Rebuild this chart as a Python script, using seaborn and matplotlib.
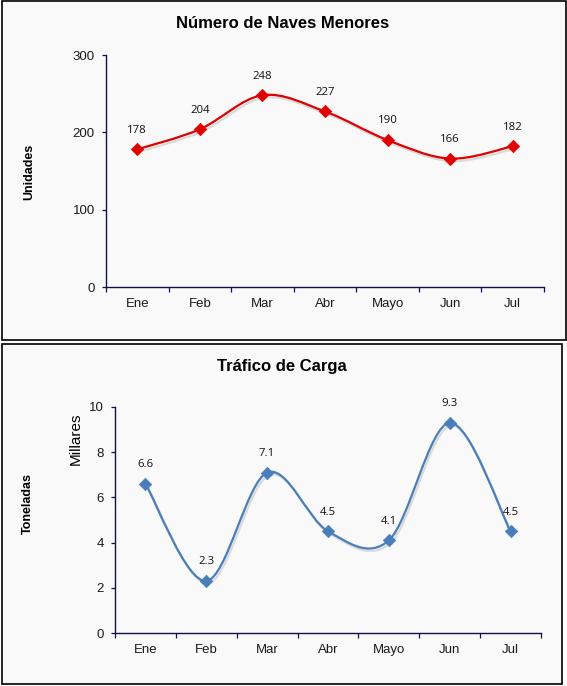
import matplotlib
matplotlib.use("Agg")
import matplotlib.pyplot as plt
import matplotlib.patheffects as pe
from matplotlib.path import Path
from matplotlib.patches import PathPatch, Rectangle
import numpy as np
import pandas as pd
import seaborn as sns

# ---------------- data ----------------
meses = ["Ene", "Feb", "Mar", "Abr", "Mayo", "Jun", "Jul"]
naves = [178, 204, 248, 227, 190, 166, 182]
carga = [6.6, 2.3, 7.1, 4.5, 4.1, 9.3, 4.5]
naves_ticks = [0, 100, 200, 300]
carga_ticks = [0, 2, 4, 6, 8, 10]

titulo_1 = "Número de Naves Menores"
titulo_2 = "Tráfico de Carga"

sns.set_theme(style="white")
plt.rcParams["font.family"] = ["Liberation Sans", "DejaVu Sans"]

W, H = 567, 686
fig = plt.figure(figsize=(W / 100, H / 100), dpi=100)
fig.patch.set_facecolor("white")

# panel frames
fig.patches.append(Rectangle((1.5 / W, 1 - 340 / H), 564.5 / W, 339 / H,
                             transform=fig.transFigure, facecolor="#F9F9F9",
                             edgecolor="black", lw=1.2, zorder=-5))
fig.patches.append(Rectangle((1.5 / W, 1 - 684 / H), 560 / W, 340 / H,
                             transform=fig.transFigure, facecolor="#F9F9F9",
                             edgecolor="black", lw=1.2, zorder=-5))

AX_COL = "#10104A"


def smooth_path(xs, ys):
    pts = np.column_stack([xs, ys]).astype(float)
    n = len(pts)
    verts = [pts[0]]
    codes = [Path.MOVETO]
    for i in range(n - 1):
        p0 = pts[i - 1] if i > 0 else pts[i]
        p1 = pts[i]
        p2 = pts[i + 1]
        p3 = pts[i + 2] if i + 2 < n else pts[i + 1]
        c1 = p1 + (p2 - p0) / 6.0
        c2 = p2 - (p3 - p1) / 6.0
        verts += [c1, c2, p2]
        codes += [Path.CURVE4] * 3
    return Path(verts, codes)


def draw_panel(ax, values, color, mcolor, yticks, fmt):
    df = pd.DataFrame({"x": np.arange(len(meses)), "y": values})
    path = smooth_path(df["x"], df["y"])
    patch = PathPatch(path, facecolor="none", edgecolor=color, lw=1.6,
                      zorder=3, capstyle="round", joinstyle="round")
    patch.set_path_effects([pe.SimpleLineShadow(offset=(1.2, -1.8), alpha=0.12,
                                                shadow_color="black"),
                            pe.Normal()])
    ax.add_patch(patch)
    sns.scatterplot(data=df, x="x", y="y", ax=ax, marker="D", s=40,
                    color=mcolor, edgecolor=mcolor, linewidth=0.5, zorder=4,
                    legend=False)
    for xi, yi in zip(df["x"], df["y"]):
        ax.annotate(fmt(yi), (xi, yi), xytext=(0, 13.8), textcoords="offset points",
                    ha="center", va="center", fontsize=8.2,
                    fontfamily="Open Sans", color="#111111", zorder=5)
    ax.set_facecolor("none")
    ax.set_xlim(-0.5, len(meses) - 0.5)
    ax.set_ylim(yticks[0], yticks[-1])
    ax.set_yticks(yticks)
    ax.set_yticklabels([str(t) for t in yticks], fontsize=9.5, color="#1a1a1a")
    ax.set_xticks(np.arange(-0.5, len(meses), 1.0))
    ax.set_xticklabels([])
    ax.set_xticks(np.arange(len(meses)), minor=True)
    ax.set_xticklabels(meses, minor=True, fontsize=9.5, color="#1a1a1a")
    ax.tick_params(axis="x", which="major", direction="out", length=3.5,
                   width=0.9, color=AX_COL, bottom=True)
    ax.tick_params(axis="x", which="minor", length=0, pad=8, bottom=True)
    ax.tick_params(axis="y", which="major", direction="out", length=3,
                   width=0.9, color=AX_COL, left=True, pad=5)
    for s in ("top", "right"):
        ax.spines[s].set_visible(False)
    for s in ("left", "bottom"):
        ax.spines[s].set_color(AX_COL)
        ax.spines[s].set_linewidth(1.0)
    ax.set_xlabel("")
    ax.set_ylabel("")
    ax.grid(False)


ax1 = fig.add_axes([106 / W, 1 - 287 / H, 438 / W, 232 / H])
draw_panel(ax1, naves, "#E00000", "#E00000", naves_ticks, lambda v: f"{v:.0f}")

ax2 = fig.add_axes([115 / W, 1 - 633 / H, 426 / W, 226 / H])
draw_panel(ax2, carga, "#4A7EBB", "#4A7EBB", carga_ticks, lambda v: f"{v:.1f}")

fig.text(283 / W, 1 - 23 / H, titulo_1, ha="center", va="center",
         fontsize=12, fontweight="bold", color="black")
fig.text(282 / W, 1 - 367 / H, titulo_2, ha="center", va="center",
         fontsize=12, fontweight="bold", color="black")
fig.text(29 / W, 1 - 172 / H, "Unidades", rotation=90, ha="center", va="center",
         fontsize=9, fontweight="bold", color="black")
fig.text(28 / W, 1 - 503 / H, "Toneladas", rotation=90, ha="center", va="center",
         fontsize=9, fontweight="bold", color="black")
fig.text(76 / W, 1 - 439 / H, "Millares", rotation=90, ha="center", va="center",
         fontsize=11, color="black")

fig.savefig("out.png", dpi=100, facecolor="white")
